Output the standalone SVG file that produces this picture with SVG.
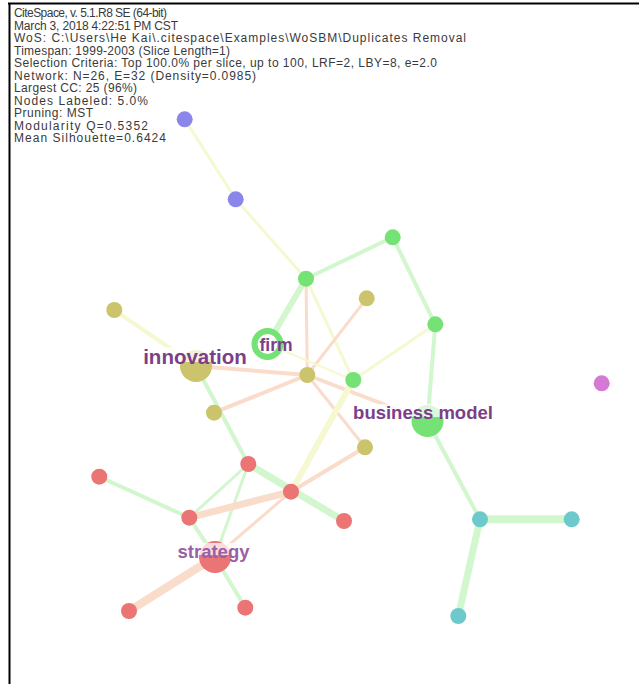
<svg xmlns="http://www.w3.org/2000/svg" width="639" height="684" viewBox="0 0 639 684">
<style>
.info{font-family:"Liberation Sans",Arial,sans-serif;font-size:12px;fill:#3a3a3a}
.lbl{font-family:"Liberation Sans",Arial,sans-serif;font-weight:bold;fill:#7b3f8a}
.e{fill:none;stroke-linecap:round}
.g{stroke:#d2f6cd}
.o{stroke:#fadccb}
.y{stroke:#f6f8d2}
.ng{fill:#74e274}
.no{fill:#cbc46c}
.nr{fill:#eb7474}
.nt{fill:#6ec9cc}
.np{fill:#8a86ea}
.nm{fill:#d47ad4}
.halo{fill:#ffffff;fill-opacity:0.75}
</style>
<rect width="639" height="684" fill="#ffffff"/>
<line x1="8" y1="3.5" x2="639" y2="3.5" stroke="#000" stroke-width="2"/>
<line x1="9.5" y1="3" x2="9.5" y2="684" stroke="#000" stroke-width="2"/>
<g id="info">
<text class="info" x="14" y="17" textLength="153" lengthAdjust="spacing">CiteSpace, v. 5.1.R8 SE (64-bit)</text>
<text class="info" x="14" y="29.5" textLength="164" lengthAdjust="spacing">March 3, 2018 4:22:51 PM CST</text>
<text class="info" x="14" y="42" textLength="452" lengthAdjust="spacing">WoS: C:\Users\He Kai\.citespace\Examples\WoSBM\Duplicates Removal</text>
<text class="info" x="14" y="54.5" textLength="216" lengthAdjust="spacing">Timespan: 1999-2003 (Slice Length=1)</text>
<text class="info" x="14" y="67" textLength="423" lengthAdjust="spacing">Selection Criteria: Top 100.0% per slice, up to 100, LRF=2, LBY=8, e=2.0</text>
<text class="info" x="14" y="79.5" textLength="242" lengthAdjust="spacing">Network: N=26, E=32 (Density=0.0985)</text>
<text class="info" x="14" y="92" textLength="123" lengthAdjust="spacing">Largest CC: 25 (96%)</text>
<text class="info" x="14" y="104.5" textLength="134" lengthAdjust="spacing">Nodes Labeled: 5.0%</text>
<text class="info" x="14" y="117" textLength="79" lengthAdjust="spacing">Pruning: MST</text>
<text class="info" x="14" y="129.5" textLength="134" lengthAdjust="spacing">Modularity Q=0.5352</text>
<text class="info" x="14" y="142" textLength="152" lengthAdjust="spacing">Mean Silhouette=0.6424</text>
</g>
<g id="edges">
<line class="e y" stroke-width="3" x1="184.7" y1="119.3" x2="235.7" y2="199.3"/>
<line class="e y" stroke-width="3" x1="235.7" y1="199.3" x2="306" y2="278.7"/>
<line class="e g" stroke-width="4" x1="306" y1="278.7" x2="392.7" y2="237.3"/>
<line class="e g" stroke-width="4" x1="392.7" y1="237.3" x2="435.3" y2="324.3"/>
<line class="e g" stroke-width="4" x1="435.3" y1="324.3" x2="427.5" y2="421"/>
<line class="e g" stroke-width="6" x1="306" y1="278.7" x2="267.5" y2="344"/>
<line class="e o" stroke-width="3" x1="306" y1="278.7" x2="307.3" y2="375"/>
<line class="e y" stroke-width="3" x1="306" y1="278.7" x2="353.3" y2="380"/>
<line class="e o" stroke-width="3" x1="366.7" y1="298.3" x2="307.3" y2="375"/>
<line class="e o" stroke-width="4" x1="307.3" y1="375" x2="196" y2="366"/>
<line class="e y" stroke-width="4" x1="114.3" y1="310" x2="196" y2="366"/>
<line class="e o" stroke-width="4" x1="307.3" y1="375" x2="214" y2="412.7"/>
<line class="e o" stroke-width="4" x1="307.3" y1="375" x2="427.5" y2="421"/>
<line class="e o" stroke-width="3" x1="307.3" y1="375" x2="365" y2="447.3"/>
<line class="e y" stroke-width="3" x1="435.3" y1="324.3" x2="353.3" y2="380"/>
<line class="e y" stroke-width="2" x1="267.5" y1="344" x2="353.3" y2="380"/>
<line class="e g" stroke-width="4" x1="196" y1="366" x2="248.3" y2="464"/>
<line class="e g" stroke-width="7" x1="248.3" y1="464" x2="344" y2="521"/>
<line class="e g" stroke-width="3" x1="248.3" y1="464" x2="189.3" y2="517.7"/>
<line class="e g" stroke-width="3" x1="248.3" y1="464" x2="215" y2="557"/>
<line class="e g" stroke-width="4" x1="99.3" y1="476.7" x2="189.3" y2="517.7"/>
<line class="e g" stroke-width="4" x1="189.3" y1="517.7" x2="215" y2="557"/>
<line class="e g" stroke-width="4" x1="215" y1="557" x2="245.3" y2="607.7"/>
<line class="e o" stroke-width="7" x1="189.3" y1="517.7" x2="291" y2="491.7"/>
<line class="e o" stroke-width="3" x1="215" y1="557" x2="291" y2="491.7"/>
<line class="e o" stroke-width="8" x1="215" y1="557" x2="129" y2="611"/>
<line class="e o" stroke-width="4" x1="291" y1="491.7" x2="365" y2="447.3"/>
<line class="e y" stroke-width="6" x1="291" y1="491.7" x2="353.3" y2="380"/>
<line class="e g" stroke-width="4" x1="427.5" y1="421" x2="480" y2="519.3"/>
<line class="e g" stroke-width="8" x1="480" y1="519.3" x2="571.7" y2="519.3"/>
<line class="e g" stroke-width="7" x1="480" y1="519.3" x2="458.3" y2="616"/>
</g>
<g id="n-p1"><circle class="np" cx="184.7" cy="119.3" r="8"/></g>
<g id="n-p2"><circle class="np" cx="235.7" cy="199.3" r="8"/></g>
<g id="n-g1"><circle class="ng" cx="306" cy="278.7" r="8"/></g>
<g id="n-g2"><circle class="ng" cx="392.7" cy="237.3" r="8"/></g>
<g id="n-g3"><circle class="ng" cx="435.3" cy="324.3" r="8"/></g>
<g id="n-g4"><circle class="ng" cx="353.3" cy="380" r="8"/></g>
<g id="n-o1"><circle class="no" cx="114.3" cy="310" r="8"/></g>
<g id="n-o2"><circle class="no" cx="366.7" cy="298.3" r="8"/></g>
<g id="n-o3"><circle class="no" cx="307.3" cy="375" r="8"/></g>
<g id="n-o4"><circle class="no" cx="214" cy="412.7" r="8"/></g>
<g id="n-o5"><circle class="no" cx="365" cy="447.3" r="8"/></g>
<g id="n-r1"><circle class="nr" cx="99.3" cy="476.7" r="8"/></g>
<g id="n-r2"><circle class="nr" cx="248.3" cy="464" r="8"/></g>
<g id="n-r3"><circle class="nr" cx="291" cy="491.7" r="8"/></g>
<g id="n-r4"><circle class="nr" cx="189.3" cy="517.7" r="8"/></g>
<g id="n-r5"><circle class="nr" cx="344" cy="521" r="8"/></g>
<g id="n-r7"><circle class="nr" cx="129" cy="611" r="8"/></g>
<g id="n-r8"><circle class="nr" cx="245.3" cy="607.7" r="8"/></g>
<g id="n-t1"><circle class="nt" cx="480" cy="519.3" r="8"/></g>
<g id="n-t2"><circle class="nt" cx="571.7" cy="519.3" r="8"/></g>
<g id="n-t3"><circle class="nt" cx="458.3" cy="616" r="8"/></g>
<g id="n-m1"><circle class="nm" cx="601.7" cy="383.3" r="8"/></g>
<g id="n-innovation">
<circle class="no" cx="196" cy="366" r="16"/>
<rect class="halo" x="143" y="347" width="104" height="15"/>
<text class="lbl" x="195" y="364" text-anchor="middle" font-size="20.5">innovation</text>
</g>
<g id="n-firm">
<circle cx="267.5" cy="344" r="13" fill="#ffffff" stroke="#74e274" stroke-width="6"/>
<text class="lbl" x="259.5" y="351" font-size="17.5">firm</text>
</g>
<g id="n-business-model">
<circle class="ng" cx="427.5" cy="421" r="16"/>
<rect class="halo" x="352" y="404" width="142" height="13"/>
<text class="lbl" x="423" y="419" text-anchor="middle" font-size="18.5">business model</text>
</g>
<g id="n-strategy">
<circle class="nr" cx="215" cy="557" r="16"/>
<rect class="halo" x="177" y="543" width="73" height="12"/>
<text class="lbl" x="213.5" y="558" text-anchor="middle" font-size="18.5" style="fill:#9a5fa6">strategy</text>
</g>
</svg>
